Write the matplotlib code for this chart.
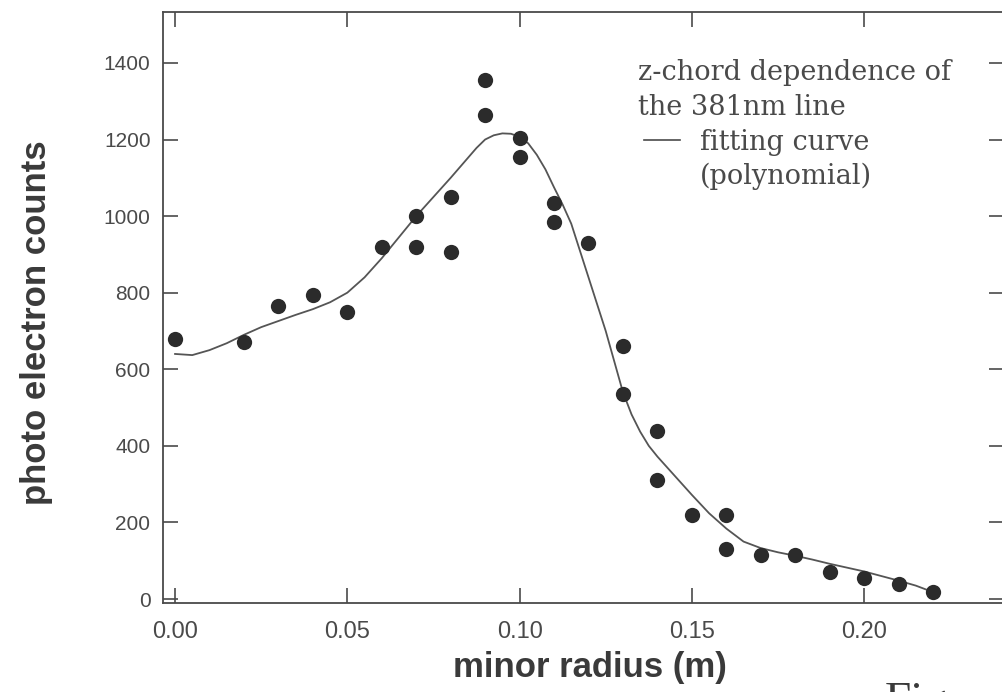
import matplotlib
matplotlib.use("Agg")
import matplotlib.pyplot as plt

# measured points (minor radius in m, photo electron counts)
r_data = [0.00, 0.02, 0.03, 0.04, 0.05, 0.06, 0.07, 0.07, 0.08, 0.08,
          0.09, 0.09, 0.10, 0.10, 0.11, 0.11, 0.12, 0.13, 0.13, 0.14,
          0.14, 0.15, 0.16, 0.16, 0.17, 0.18, 0.19, 0.20, 0.21, 0.22]
counts = [680, 670, 765, 795, 750, 920, 1000, 920, 1050, 905,
          1355, 1265, 1205, 1155, 1035, 985, 930, 660, 535, 440,
          310, 220, 220, 130, 115, 115, 70, 55, 40, 18]

# fitting curve (polynomial)
r_fit = [0.000, 0.005, 0.010, 0.015, 0.020, 0.025, 0.030, 0.035, 0.040, 0.045,
         0.050, 0.055, 0.060, 0.065, 0.070, 0.075, 0.080, 0.085, 0.0875, 0.090,
         0.0925, 0.095, 0.0975, 0.100, 0.1025, 0.105, 0.1075, 0.110, 0.1125, 0.115,
         0.1175, 0.120, 0.1225, 0.125, 0.1275, 0.130, 0.1325, 0.135, 0.1375, 0.140,
         0.145, 0.150, 0.155, 0.160, 0.165, 0.170, 0.175, 0.180, 0.185, 0.190,
         0.195, 0.200, 0.205, 0.210, 0.215, 0.220]
c_fit = [640, 637, 650, 668, 690, 710, 726, 742, 757, 775,
         800, 840, 890, 945, 1000, 1050, 1100, 1152, 1178, 1200,
         1211, 1216, 1215, 1207, 1190, 1160, 1122, 1075, 1030, 980,
         910, 840, 770, 700, 620, 540, 482, 437, 400, 372,
         322, 272, 224, 184, 150, 133, 122, 113, 103, 92,
         82, 72, 60, 48, 35, 18]

xticks = [0.00, 0.05, 0.10, 0.15, 0.20]
yticks = [0, 200, 400, 600, 800, 1000, 1200, 1400]

W, H = 1002, 692
ink = "#4a4a4a"

fig = plt.figure(figsize=(W / 100, H / 100), dpi=100)
ax = fig.add_axes([163 / W, 1 - 603 / H, (1004 - 163) / W, (603 - 12) / H])

ax.plot(r_fit, c_fit, color="#555555", lw=1.3)
ax.plot(r_data, counts, "o", color="#2b2b2b", ms=11, mec="none")

ax.set_xlim(-0.0035, 0.2406)
ax.set_ylim(-10.4, 1533)
ax.set_xticks(xticks)
ax.set_xticklabels(["%.2f" % v for v in xticks])
ax.set_yticks(yticks)
ax.set_yticklabels([str(v) for v in yticks])

for s in ax.spines.values():
    s.set_color(ink)
    s.set_linewidth(1.3)
ax.tick_params(direction="in", length=11, width=1.2, color=ink,
               top=True, right=True, labelcolor=ink)
ax.tick_params(axis="x", pad=13, labelsize=17)
ax.tick_params(axis="y", pad=9, labelsize=15)
for lab in ax.get_xticklabels() + ax.get_yticklabels():
    lab.set_family("Liberation Sans")

fig.text(37 / W, 1 - 323 / H, "photo electron counts", rotation=90,
         ha="center", va="center", fontsize=25, fontweight="bold",
         color="#3a3a3a", family="Liberation Sans")
fig.text(590 / W, 1 - 668 / H, "minor radius (m)", ha="center", va="center",
         fontsize=25, fontweight="bold", color="#3a3a3a", family="Liberation Sans")

note = dict(fontsize=19.5, color=ink, family="DejaVu Serif", va="baseline")
fig.text(638 / W, 1 - 80 / H, "z-chord dependence of", **note)
fig.text(638 / W, 1 - 115 / H, "the 381nm line", **note)
fig.text(700 / W, 1 - 150 / H, "fitting curve", **note)
fig.text(700 / W, 1 - 184 / H, "(polynomial)", **note)
fig.add_artist(plt.Line2D([644 / W, 680 / W], [1 - 140 / H, 1 - 140 / H],
                          color=ink, lw=1.2))

fig.text(885 / W, 1 - 681 / H, "Fig.", fontsize=34, color="#3a3a3a",
         family="Liberation Serif", va="top")

fig.savefig("out.png", dpi=100)
